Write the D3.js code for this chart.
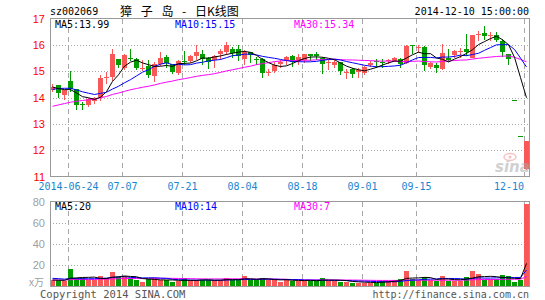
<!DOCTYPE html>
<html>
<head>
<meta charset="utf-8">
<script src="https://cdn.jsdelivr.net/npm/d3@7"></script>
<style>
body{margin:0;background:#fff;}
svg{display:block;}
text{font-family:"DejaVu Sans Mono",monospace;font-size:10px;}
</style>
</head>
<body>
<svg id="chart" width="545" height="300"></svg>
<script>
// trading days shown (2014)
let dates = ["06-19","06-20","06-23","06-24","06-25","06-26","06-27","06-30",
  "07-01","07-02","07-03","07-04","07-07","07-08","07-09","07-10","07-11","07-14","07-15","07-16","07-17","07-18",
  "07-21","07-22","07-23","07-24","07-25","07-28","07-29","07-30","07-31",
  "08-01","08-04","08-05","08-06","08-07","08-08","08-11","08-12","08-13","08-14","08-15","08-18","08-19","08-20",
  "08-21","08-22","08-25","08-26","08-27","08-28","08-29",
  "09-01","09-02","09-03","09-04","09-05","09-09","09-10","09-11","09-12","09-15","09-16","09-17","09-18","09-19",
  "09-22","09-23","09-24","09-25","09-26","09-29","09-30",
  "10-08","10-09","10-10","10-13","12-08","12-09","12-10"];
let opens = [14.28,14.47,14.10,14.62,14.31,13.74,13.72,13.87,13.99,14.72,14.75,15.45,15.13,15.51,15.48,15.08,15.20,14.85,15.29,15.52,
  15.26,14.92,15.40,15.38,15.55,15.67,15.51,15.42,15.64,15.71,15.86,15.86,15.46,15.71,15.46,15.46,14.95,15.00,15.26,15.38,
  15.58,15.36,15.42,15.67,15.65,15.51,15.29,15.23,15.36,14.95,15.08,14.95,14.93,15.25,15.37,15.36,15.40,15.41,15.47,15.31,
  15.98,15.89,15.90,15.16,15.25,15.09,15.50,15.60,15.74,15.85,15.53,16.37,16.44,16.33,16.36,16.14,15.66,13.91,12.52,11.27];
let highs = [14.50,14.49,14.30,15.00,14.33,13.84,14.00,14.02,14.85,14.98,15.86,15.48,15.67,15.86,15.50,15.42,15.42,15.36,15.71,15.61,
  15.29,15.42,15.76,15.61,15.99,15.80,15.55,15.61,15.84,16.09,15.93,15.99,15.80,15.73,15.55,15.51,15.08,15.33,15.41,15.58,
  15.61,15.67,15.67,15.67,15.74,15.55,15.42,15.42,15.36,15.08,15.13,15.13,15.20,15.38,15.45,15.47,15.47,15.53,15.50,16.01,
  15.99,15.99,15.95,15.33,15.30,16.04,15.85,15.80,15.89,16.40,16.39,16.52,16.70,16.48,16.48,16.23,15.66,13.91,12.52,12.35];
let lows = [14.25,14.03,13.93,14.25,13.57,13.57,13.68,13.78,13.90,14.54,14.66,15.17,15.08,15.42,15.10,15.04,14.79,14.63,15.23,15.17,
  14.92,14.89,15.29,15.36,15.48,15.29,15.13,15.17,15.48,15.64,15.55,15.42,15.26,15.36,15.26,14.79,14.85,14.98,15.17,15.29,
  15.21,15.26,15.36,15.42,15.48,14.94,15.08,15.17,14.89,14.75,14.79,14.79,14.88,15.20,15.15,15.15,15.31,15.39,15.15,15.31,
  15.69,15.72,15.05,15.12,14.97,15.09,15.38,15.55,15.55,15.60,15.53,16.17,16.22,16.17,16.14,15.56,15.28,13.91,12.52,11.27];
let closes = [14.41,14.16,14.28,14.30,13.72,13.70,13.95,13.97,14.73,14.76,15.64,15.21,15.61,15.49,15.13,15.13,14.87,15.29,15.51,15.29,
  14.94,15.38,15.36,15.57,15.71,15.48,15.36,15.58,15.76,15.99,15.71,15.58,15.71,15.58,15.43,14.92,14.98,15.23,15.33,15.55,
  15.36,15.52,15.64,15.61,15.58,15.29,15.33,15.36,15.00,14.98,14.89,15.04,15.15,15.31,15.33,15.34,15.43,15.51,15.28,15.94,
  15.95,15.93,15.20,15.31,15.12,15.69,15.42,15.76,15.78,15.72,16.39,16.40,16.32,16.36,16.17,15.72,15.46,13.91,12.52,12.34];
// volume, x万
let volumes = [4.9,4.9,4.3,15.4,6.8,6.8,5.5,5.5,8.9,6.8,12.6,8.0,8.9,6.8,5.5,3.7,6.1,6.8,4.9,4.9,
  3.7,4.3,6.8,4.9,4.9,5.5,4.9,4.9,5.2,7.4,5.2,5.2,8.9,5.2,5.2,7.4,5.2,5.2,3.7,6.1,
  4.6,4.6,4.6,4.6,4.6,7.1,4.6,4.6,3.7,3.7,2.8,2.8,2.8,2.8,2.8,4.6,4.6,5.2,6.1,13.5,
  6.1,5.2,7.7,5.2,4.6,8.9,4.6,4.6,4.6,8.0,13.5,11.0,5.2,6.1,6.1,9.8,8.9,3.1,5.2,78];
// sessions before the first visible day, only feed the moving averages
let prevCloses = [12.6,12.7,12.8,12.7,12.75,13.1,13.2,13.3,13.25,13.3,13.6,13.7,13.65,13.75,13.7,13.72,
  13.8,13.75,13.85,13.7,13.8,14.2,14.3,14.35,14.4,14.5,14.45,14.3,14.35];
let prevVolumes = [4.2,4.6,4.0,4.8,4.4,3.9,4.5,4.3,4.7,4.1,4.6,4.4,4.2,4.8,4.3,4.5,4.0,4.6,4.4,4.7,
  7.5,9.2,8.8,8.1,8.4,5.6,5.0,5.4,5.1];

let priceTicks = [11,12,13,14,15,16,17];
let volTicks = [20,40,60,80];
let dateTicks = ["06-24","07-07","07-21","08-04","08-18","09-01","09-15","12-10"];
let dateTickLabels = ["2014-06-24","07-07","07-21","08-04","08-18","09-01","09-15","12-10"];
let maNames = ["MA5","MA10","MA30"];
let maPeriods = [5,10,30];
let maColors = ["#000000","#0000ff","#ff00ff"];
let priceMaText = ["13.99","15.15","15.34"];
let volMaText = ["20","14","7"];

let svg = d3.select("#chart");
let left = 50, right = 529;
let upColor = "#f85858", downColor = "#009c00", gridColor = "#a8a8a8";

let x = d3.scaleBand().domain(dates).range([49,529]).paddingInner(0.2).paddingOuter(0.1);
let yP = d3.scaleLinear().domain([11,17]).range([176.5,18.5]);
let yV = d3.scaleLinear().domain([0,80]).range([285.5,201.5]);
let bx = d => Math.round(x(d));

let rows = dates.map((d,i)=>({date:d,o:opens[i],h:highs[i],l:lows[i],c:closes[i],v:volumes[i],
  up: closes[i]>opens[i] || (closes[i]===opens[i] && closes[i]>=(i>0?closes[i-1]:prevCloses[prevCloses.length-1]))}));

function movingAvg(vals, prev, n){
    let all = prev.concat(vals);
    return vals.map((v,i)=>{
        let end = prev.length+i;
        return d3.mean(all.slice(end-n+1,end+1));
    });
}

// ---------- grids ----------
function drawPanel(y0, y1, yScale, ticks){
    let g = svg.append("g").attr("shape-rendering","crispEdges");
    g.selectAll(".hg").data(ticks).enter().append("line")
        .attr("x1",left).attr("x2",right)
        .attr("y1",d=>Math.round(yScale(d))+0.5).attr("y2",d=>Math.round(yScale(d))+0.5)
        .attr("stroke",gridColor).attr("stroke-dasharray","1,2");
    g.selectAll(".vg").data(dateTicks).enter().append("line")
        .attr("x1",d=>bx(d)+0.5).attr("x2",d=>bx(d)+0.5)
        .attr("y1",y0).attr("y2",y1)
        .attr("stroke",gridColor).attr("stroke-dasharray","5,4");
    return g;
}
drawPanel(19,176,yP,[12,13,14,15,16]);
drawPanel(202,285,yV,[20,40,60]);

let clip = svg.append("clipPath").attr("id","pclip");
clip.append("rect").attr("x",left).attr("y",18).attr("width",right-left).attr("height",159);

// ---------- candles ----------
let cg = svg.append("g").attr("shape-rendering","crispEdges");
cg.selectAll(".wick").data(rows).enter().append("line")
    .attr("x1",d=>bx(d.date)+2.5).attr("x2",d=>bx(d.date)+2.5)
    .attr("y1",d=>Math.round(yP(d.h))).attr("y2",d=>Math.round(yP(d.l))+1)
    .attr("stroke",d=>d.up?upColor:downColor);
cg.selectAll(".body").data(rows).enter().append("rect")
    .attr("x",d=>bx(d.date)).attr("width",5)
    .attr("y",d=>Math.round(yP(Math.max(d.o,d.c))))
    .attr("height",d=>Math.max(1,Math.round(Math.abs(yP(d.o)-yP(d.c)))))
    .attr("fill",d=>d.up?upColor:downColor);

// volume bars
cg.selectAll(".vol").data(rows).enter().append("rect")
    .attr("x",d=>bx(d.date)).attr("width",5)
    .attr("y",d=>Math.round(yV(d.v)))
    .attr("height",d=>Math.round(yV(0))-Math.round(yV(d.v)))
    .attr("fill",d=>d.up?upColor:downColor);

// ---------- moving averages ----------
let cx = i => bx(dates[i])+2.5;
maPeriods.slice().reverse().forEach((n,k)=>{
    let j = maPeriods.length-1-k;
    let pm = movingAvg(closes,prevCloses,n);
    svg.append("path").datum(pm)
        .attr("d",d3.line().x((d,i)=>cx(i)).y(d=>yP(d)))
        .attr("fill","none").attr("stroke",maColors[j]).attr("stroke-width",1)
        .attr("clip-path","url(#pclip)");
    let vm = movingAvg(volumes,prevVolumes,n);
    svg.append("path").datum(vm)
        .attr("d",d3.line().x((d,i)=>cx(i)).y(d=>yV(d)))
        .attr("fill","none").attr("stroke",maColors[j]).attr("stroke-width",1);
});

// frames
let fg = svg.append("g").attr("shape-rendering","crispEdges").attr("fill","none").attr("stroke","#999");
fg.append("rect").attr("x",left+0.5).attr("y",18.5).attr("width",right-left).attr("height",158);
fg.append("rect").attr("x",left+0.5).attr("y",201.5).attr("width",right-left).attr("height",84.5);

// ---------- text ----------
svg.selectAll(".pt").data(priceTicks).enter().append("text")
    .attr("x",45).attr("y",d=>yP(d)+4).attr("text-anchor","end")
    .attr("fill","#ff0000").style("font-family","'Liberation Sans',sans-serif").style("font-size","11px")
    .text(d=>d);
svg.selectAll(".vt").data(volTicks).enter().append("text")
    .attr("x",45).attr("y",d=>yV(d)+4).attr("text-anchor","end")
    .attr("fill","#a0a0a0").style("font-family","'Liberation Sans',sans-serif").style("font-size","11px")
    .text(d=>d);
svg.append("text").attr("x",44).attr("y",286).attr("text-anchor","end")
    .attr("fill","#a0a0a0").style("font-family","'Noto Sans CJK SC',sans-serif").style("font-size","10px")
    .text("x万");

svg.selectAll(".dt").data(dateTicks).enter().append("text")
    .attr("x",(d,i)=>i===dateTicks.length-1 ? bx(d)-0 : bx(d)+0.5)
    .attr("y",190)
    .attr("text-anchor",(d,i)=>i===dateTicks.length-1?"end":"middle")
    .attr("fill","#1a86d0")
    .text((d,i)=>dateTickLabels[i]);

let maX = [55,175,294];
svg.selectAll(".pma").data(maNames).enter().append("text")
    .attr("x",(d,i)=>maX[i]).attr("y",27.5).attr("fill",(d,i)=>maColors[i])
    .text((d,i)=>d+":"+priceMaText[i]);
svg.selectAll(".vma").data(maNames).enter().append("text")
    .attr("x",(d,i)=>maX[i]).attr("y",209.5).attr("fill",(d,i)=>maColors[i])
    .text((d,i)=>d+":"+volMaText[i]);

svg.append("text").attr("x",50).attr("y",15).text("sz002069");
svg.append("text").attr("x",120).attr("y",15.5)
    .style("font-family","'Noto Sans CJK SC',sans-serif").style("font-size","12px").style("word-spacing","6px")
    .text("獐 子 岛 - 日K线图");
svg.append("text").attr("x",529).attr("y",15).attr("text-anchor","end").text("2014-12-10 15:00:00");

svg.append("text").attr("x",40).attr("y",297.5).attr("fill","#555").style("font-size","10.5px").text("Copyright 2014 SINA.COM");
svg.append("text").attr("x",529).attr("y",297.5).attr("text-anchor","end").attr("fill","#555").text("http://finance.sina.com.cn");

// sina watermark
let wm = svg.append("g").attr("opacity",0.55);
wm.append("ellipse").attr("cx",510).attr("cy",157).attr("rx",6).attr("ry",3.5)
    .attr("fill","none").attr("stroke","#f09090").attr("stroke-width",1.5);
wm.append("circle").attr("cx",510).attr("cy",157).attr("r",1.6).attr("fill","#f09090");
wm.append("text").attr("x",495).attr("y",172)
    .style("font-family","'DejaVu Sans',sans-serif").style("font-size","15px")
    .style("font-weight","bold").style("font-style","italic").attr("fill","#aaa").text("sina");
</script>
</body>
</html>
